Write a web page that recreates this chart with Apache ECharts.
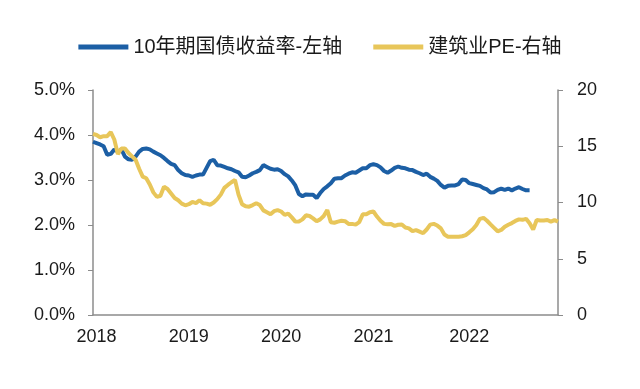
<!DOCTYPE html>
<html>
<head>
<meta charset="utf-8">
<script src="https://cdn.jsdelivr.net/npm/echarts@6/dist/echarts.min.js"></script>
<style>
html,body{margin:0;padding:0;background:#fff;}
#chart{width:640px;height:389px;}
</style>
</head>
<body>
<div id="chart"></div>
<script>
// Series names
const seriesNames = ['10年期国债收益率-左轴', '建筑业PE-右轴'];
// Biweekly sampling dates (categories): start date and step in days
const startDate = '2017-12-22';
const stepDays = 14;
const pointCount = 132;
// Year tick labels shown on the x axis
const yearLabels = ['2018', '2019', '2020', '2021', '2022'];
// 10-year government bond yield (%), left axis
const bondYield = [
  3.85, 3.82, 3.79, 3.75, 3.56, 3.58, 3.68, 3.63, 3.68, 3.52,
  3.46, 3.45, 3.52, 3.63, 3.69, 3.70, 3.68, 3.63, 3.59, 3.55,
  3.49, 3.42, 3.36, 3.33, 3.22, 3.15, 3.11, 3.10, 3.07, 3.10,
  3.12, 3.12, 3.27, 3.42, 3.45, 3.33, 3.32, 3.29, 3.26, 3.24,
  3.20, 3.17, 3.07, 3.06, 3.10, 3.15, 3.18, 3.22, 3.33, 3.29,
  3.25, 3.23, 3.24, 3.20, 3.13, 3.08, 2.99, 2.88, 2.69, 2.64,
  2.68, 2.67, 2.67, 2.60, 2.71, 2.80, 2.86, 2.93, 3.03, 3.04,
  3.04, 3.10, 3.14, 3.17, 3.16, 3.21, 3.26, 3.26, 3.33, 3.35,
  3.33, 3.28, 3.20, 3.16, 3.21, 3.27, 3.30, 3.27, 3.26, 3.23,
  3.22, 3.18, 3.15, 3.11, 3.14, 3.07, 3.03, 2.98, 2.89, 2.83,
  2.87, 2.88, 2.88, 2.91, 3.01, 3.00, 2.93, 2.91, 2.89, 2.87,
  2.82, 2.79, 2.72, 2.73, 2.78, 2.81, 2.78, 2.81, 2.77, 2.81,
  2.84, 2.80, 2.77, 2.77
];
// Construction industry PE (x), right axis
const constructionPE = [
  16.1, 16.0, 15.8, 15.9, 15.9, 16.25, 15.6, 14.3, 14.8, 14.8,
  14.4, 14.1, 13.8, 13.0, 12.3, 12.15, 11.6, 10.9, 10.5, 10.6,
  11.4, 11.2, 10.8, 10.4, 10.2, 9.9, 9.75, 9.85, 10.05, 9.95,
  10.2, 9.93, 9.9, 9.8, 10.0, 10.3, 10.7, 11.3, 11.56, 11.8,
  12.0, 10.7, 9.85, 9.66, 9.63, 9.77, 9.93, 9.77, 9.3, 9.13,
  8.95, 9.23, 9.33, 9.2, 8.9, 9.02, 8.68, 8.3, 8.32, 8.5,
  8.86, 8.8, 8.59, 8.33, 8.5, 8.8, 9.33, 8.25, 8.2, 8.3,
  8.38, 8.34, 8.1, 8.1, 8.03, 8.25, 8.95, 8.96, 9.14, 9.2,
  8.75, 8.37, 8.1, 8.06, 8.08, 7.92, 8.02, 8.05, 7.78, 7.7,
  7.45, 7.55, 7.41, 7.27, 7.6, 8.03, 8.1, 7.95, 7.7, 7.15,
  6.96, 6.96, 6.96, 6.96, 7.0, 7.1, 7.35, 7.62, 8.0, 8.55,
  8.64, 8.38, 8.06, 7.75, 7.44, 7.56, 7.85, 8.02, 8.17, 8.36,
  8.5, 8.46, 8.55, 8.15, 7.6, 8.45, 8.4, 8.4, 8.45, 8.3,
  8.44, 8.3
];

const categories = [];
(function () {
  const d0 = new Date(startDate + 'T00:00:00Z');
  for (let i = 0; i < pointCount; i++) {
    const d = new Date(d0.getTime() + i * stepDays * 86400000);
    categories.push(d.toISOString().slice(0, 10));
  }
})();
// index of first category in each labelled year
const yearFirstIndex = {};
categories.forEach((c, i) => {
  const y = c.slice(0, 4);
  if (yearLabels.indexOf(y) >= 0 && yearFirstIndex[y] === undefined) yearFirstIndex[y] = i;
});
const labelIdx = new Set(Object.values(yearFirstIndex));

const font = '"Liberation Sans", Arial, "Noto Sans CJK SC", sans-serif';
const axisGray = '#8c8c8c';
const textColor = '#1a1a1a';

const chart = echarts.init(document.getElementById('chart'), null, {renderer: 'canvas'});
chart.setOption({
  animation: false,
  backgroundColor: '#ffffff',
  textStyle: {fontFamily: font},
  legend: {
    top: 32,
    left: 'center',
    itemWidth: 50,
    itemHeight: 5,
    itemGap: 31,
    icon: 'rect',
    textStyle: {fontSize: 20, color: textColor, fontFamily: font, padding: [0, 0, 0, 0]},
    data: seriesNames
  },
  grid: {left: 93, right: 82, top: 90, bottom: 74, containLabel: false},
  xAxis: {
    type: 'category',
    data: categories,
    boundaryGap: false,
    axisLine: {show: true, lineStyle: {color: axisGray, width: 1.5}},
    axisTick: {show: false},
    splitLine: {show: false},
    axisLabel: {
      interval: (i) => labelIdx.has(i),
      formatter: (v) => v.slice(0, 4),
      fontSize: 18,
      color: textColor,
      fontFamily: font,
      margin: 13
    }
  },
  yAxis: [
    {
      type: 'value', min: 0, max: 5, interval: 1, position: 'left',
      axisLine: {show: true, lineStyle: {color: axisGray, width: 1.5}},
      axisTick: {show: true, inside: false, length: 5, lineStyle: {color: axisGray}},
      splitLine: {show: false},
      axisLabel: {formatter: (v) => v.toFixed(1) + '%', fontSize: 18, color: textColor, fontFamily: font, margin: 18}
    },
    {
      type: 'value', min: 0, max: 20, interval: 5, position: 'right',
      axisLine: {show: true, lineStyle: {color: axisGray, width: 1.5}},
      axisTick: {show: true, inside: false, length: 5, lineStyle: {color: axisGray}},
      splitLine: {show: false},
      axisLabel: {fontSize: 18, color: textColor, fontFamily: font, margin: 19}
    }
  ],
  series: [
    {
      name: seriesNames[0], type: 'line', yAxisIndex: 0, data: bondYield,
      showSymbol: false, symbol: 'none',
      lineStyle: {color: '#1c5fa5', width: 4},
      itemStyle: {color: '#1c5fa5'}
    },
    {
      name: seriesNames[1], type: 'line', yAxisIndex: 1, data: constructionPE,
      showSymbol: false, symbol: 'none',
      lineStyle: {color: '#e8c65a', width: 4},
      itemStyle: {color: '#e8c65a'}
    }
  ]
});
</script>
</body>
</html>
